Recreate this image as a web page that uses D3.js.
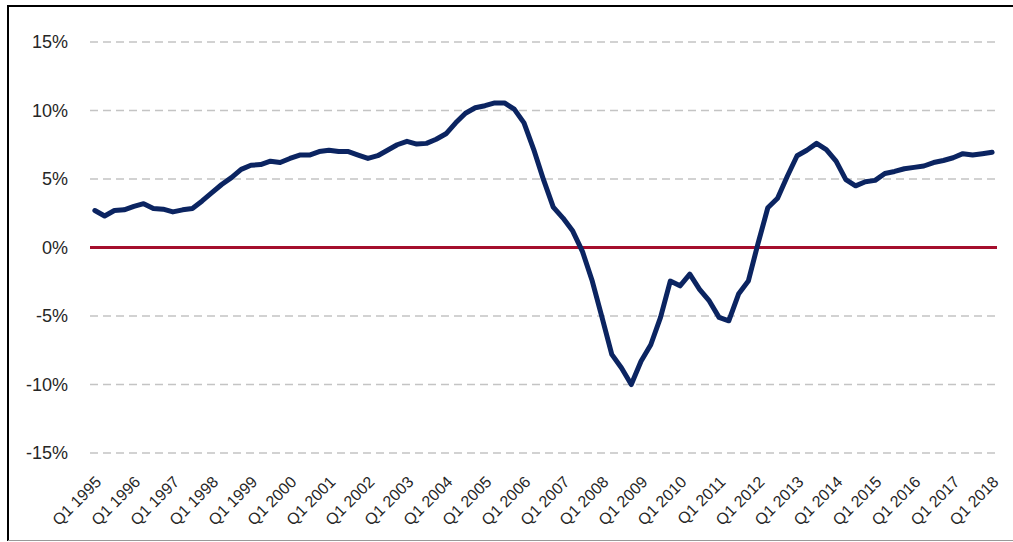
<!DOCTYPE html>
<html>
<head>
<meta charset="utf-8">
<script src="https://cdn.jsdelivr.net/npm/d3@7"></script>
<style>
  body { margin: 0; background: #fff; }
  svg { display: block; }
</style>
</head>
<body>
<div id="chart"></div>
<script>
let years = d3.range(1995, 2019)
let quarters = []
years.forEach(yr => {
  ["Q1", "Q2", "Q3", "Q4"].forEach(q => {
    if (yr < 2018 || q == "Q1") quarters.push(q + " " + yr)
  })
})

// growth rate, %
let growth = [
  2.7, 2.3, 2.7, 2.75, 3.0, 3.2, 2.85, 2.8, 2.6, 2.75, 2.85, 3.4,
  4.0, 4.6, 5.1, 5.7, 6.0, 6.05, 6.3, 6.2, 6.5, 6.75, 6.75, 7.0,
  7.1, 7.0, 7.0, 6.75, 6.5, 6.7, 7.1, 7.5, 7.75, 7.55, 7.6, 7.9,
  8.3, 9.1, 9.8, 10.2, 10.35, 10.55, 10.55, 10.1, 9.1, 7.15, 4.95, 2.95,
  2.15, 1.2, -0.3, -2.45, -5.1, -7.8, -8.8, -10.0, -8.3, -7.1, -5.1, -2.45,
  -2.8, -1.95, -3.05, -3.9, -5.1, -5.35, -3.4, -2.45, 0.3, 2.9, 3.6, 5.2,
  6.7, 7.1, 7.6, 7.15, 6.3, 4.95, 4.5, 4.8, 4.9, 5.4, 5.55, 5.75,
  5.85, 5.95, 6.2, 6.35, 6.55, 6.85, 6.75, 6.85, 6.95
]

let yTicks = [-15, -10, -5, 0, 5, 10, 15]
let tickLabels = quarters.filter(q => q.startsWith("Q1"))

let width = 1013, height = 542
let margin = {top: 42, right: 16, bottom: 89, left: 90}

let svg = d3.select("#chart").append("svg")
  .attr("width", width)
  .attr("height", height)

// frame
svg.append("line").attr("x1", 8).attr("x2", 8).attr("y1", 5).attr("y2", 541)
  .attr("stroke", "#000").attr("stroke-width", 2)
svg.append("line").attr("x1", 7).attr("x2", width).attr("y1", 6).attr("y2", 6)
  .attr("stroke", "#000").attr("stroke-width", 2)
svg.append("line").attr("x1", 8).attr("x2", width).attr("y1", 540.5).attr("y2", 540.5)
  .attr("stroke", "#999").attr("stroke-width", 1)

let x = d3.scalePoint()
  .domain(quarters)
  .range([margin.left, width - margin.right])
  .padding(0.5)

let y = d3.scaleLinear()
  .domain([-15, 15])
  .range([height - margin.bottom, margin.top])

// dashed gridlines
svg.append("g")
  .selectAll("line")
  .data(yTicks.filter(d => d != 0))
  .join("line")
  .attr("x1", margin.left)
  .attr("x2", width - margin.right)
  .attr("y1", d => y(d))
  .attr("y2", d => y(d))
  .attr("stroke", "#c4c4c4")
  .attr("stroke-width", 1.6)
  .attr("stroke-dasharray", "8,5")

// y axis labels
svg.append("g")
  .attr("transform", "translate(" + (margin.left - 22) + ",0)")
  .call(d3.axisLeft(y).tickValues(yTicks).tickFormat(d => d + "%").tickSize(0))
  .call(g => g.select(".domain").remove())
  .selectAll("text")
    .attr("x", 0)
    .style("font-family", "Liberation Sans, Arial, sans-serif")
    .style("font-size", "18px")
    .attr("fill", "#262626")

// zero line
svg.append("line")
  .attr("x1", margin.left)
  .attr("x2", width - margin.right)
  .attr("y1", y(0))
  .attr("y2", y(0))
  .attr("stroke", "#a50e2d")
  .attr("stroke-width", 3)

// x axis labels
svg.append("g")
  .attr("transform", "translate(0," + (height - margin.bottom) + ")")
  .call(d3.axisBottom(x).tickValues(tickLabels).tickSize(0))
  .call(g => g.select(".domain").remove())
  .selectAll("text")
    .attr("y", 0)
    .attr("dy", 0)
    .attr("transform", "translate(7,30)rotate(-45)")
    .style("text-anchor", "end")
    .style("font-family", "Liberation Sans, Arial, sans-serif")
    .style("font-size", "16px")
    .attr("fill", "#262626")

let line = d3.line()
  .x((d, i) => x(quarters[i]))
  .y(d => y(d))

svg.append("path")
  .attr("d", line(growth))
  .attr("fill", "none")
  .attr("stroke", "#0b2461")
  .attr("stroke-width", 5)
  .attr("stroke-linejoin", "round")
  .attr("stroke-linecap", "round")
</script>
</body>
</html>
